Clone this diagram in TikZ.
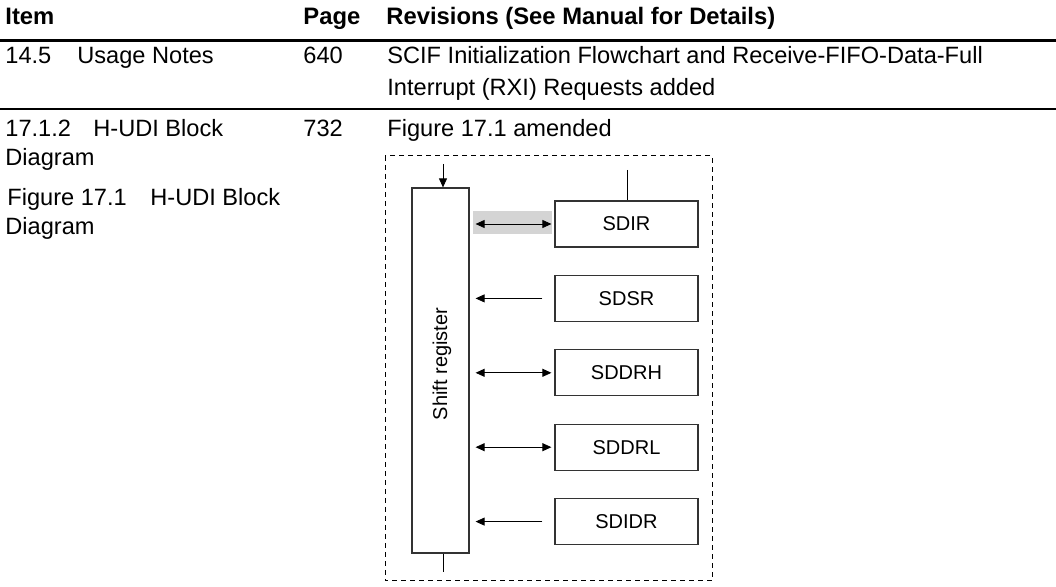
\documentclass[tikz,border=0pt]{standalone}
\usepackage{fontspec}
\setmainfont{Liberation Sans}
\usetikzlibrary{positioning,arrows.meta}

\begin{document}
\begin{tikzpicture}[x=0.5pt,y=-0.5pt,>={Triangle[length=4.5pt,width=4pt]},node distance=37.2pt,
    txt/.style={anchor=base west,inner sep=0pt,font=\fontsize{11.8}{14}\selectfont},
    head/.style={txt,font=\fontsize{11.9}{14}\selectfont\bfseries},
    regbox/.style={draw=black!80,line width=0.6pt,minimum width=71.5pt,minimum height=23pt,inner sep=0pt,font=\fontsize{10}{12}\selectfont}]

    \useasboundingbox (0,0) rectangle (1056,587);

    % table head
    \node[head] (hItem) at (5,25) {Item};
    \node[head] (hPage) at (303,25) {Page};
    \node[head] (hRev) at (386,25) {Revisions (See Manual for Details)};
    \draw[line width=1.5pt] (0,40.5) -- (1056,40.5);

    % row 14.5
    \node[txt] (secA) at (5,64) {14.5};
    \node[txt] (titA) at (77,64) {Usage Notes};
    \node[txt] (pgA) at (303,64) {640};
    \node[txt] (revA1) at (387,64) {SCIF Initialization Flowchart and Receive-FIFO-Data-Full};
    \node[txt] (revA2) at (387,96) {Interrupt (RXI) Requests added};
    \draw[line width=0.75pt] (0,109) -- (1056,109);

    % row 17.1.2
    \node[txt] (secB) at (5,137) {17.1.2};
    \node[txt] (titB1) at (93,137) {H-UDI Block};
    \node[txt] (titB2) at (5,166) {Diagram};
    \node[txt] (figB1) at (7,206) {Figure 17.1};
    \node[txt] (figB2) at (150,206) {H-UDI Block};
    \node[txt] (figB3) at (5,235) {Diagram};
    \node[txt] (pgB) at (303,137) {732};
    \node[txt] (revB) at (387,137) {Figure 17.1 amended};

    % block diagram
    \draw[dash pattern=on 2.5pt off 2pt,line width=0.5pt] (385,156) rectangle (712,581);

    \node[draw=black!80,line width=0.6pt,minimum width=28.5pt,minimum height=182.5pt,inner sep=0pt] (sreg) at (440.5,370.5) {};
    \node[rotate=90,inner sep=0pt,font=\fontsize{10}{12}\selectfont] (sregtxt) at (442,364) {Shift register};

    \node[regbox] (sdir) at (626.5,224) {SDIR};
    \node[regbox] (sdsr) [below of = sdir] {SDSR};
    \node[regbox] (sddrh) [below of = sdsr] {SDDRH};
    \node[regbox] (sddrl) [below of = sddrh] {SDDRL};
    \node[regbox] (sdidr) [below of = sddrl] {SDIDR};

    \node[fill=black!17,minimum width=39.5pt,minimum height=11.5pt,inner sep=0pt] (hl) at (512.5,222.5) {};

    \coordinate (topin) at (443,164);
    \coordinate (botout) at (443,572);
    \coordinate (irin) at (627,170);

    \draw[->] (topin) -- (topin |- sreg.north);
    \draw[-] (botout |- sreg.south) -- (botout);
    \draw[-] (irin) -- (irin |- sdir.north);

    \draw[<->,shorten <=3pt,shorten >=1.5pt] (sreg.east |- sdir.west) -- (sdir.west);
    \draw[->,shorten <=6pt,shorten >=3pt] (sdsr.west) -- (sreg.east |- sdsr.west);
    \draw[<->,shorten <=3pt,shorten >=1.5pt] (sreg.east |- sddrh.west) -- (sddrh.west);
    \draw[<->,shorten <=3pt,shorten >=1.5pt] (sreg.east |- sddrl.west) -- (sddrl.west);
    \draw[->,shorten <=6pt,shorten >=3pt] (sdidr.west) -- (sreg.east |- sdidr.west);

\end{tikzpicture}
\end{document}
